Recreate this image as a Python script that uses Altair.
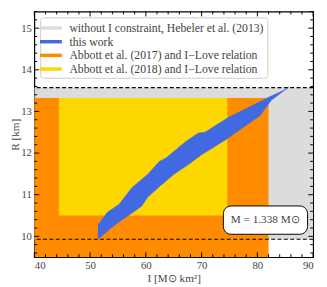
import altair as alt
import pandas as pd
import numpy as np

# ---- data ----
labels = [
    "without I constraint, Hebeler et al. (2013)",
    "this work",
    "Abbott et al. (2017) and I\u2212Love relation",
    "Abbott et al. (2018) and I\u2212Love relation",
]
colors = ["#DCDCDC", "#4169E1", "#FF8C00", "#FFD700"]

# rectangles: gray, orange, yellow
rect_label = [labels[0], labels[2], labels[3]]
rect_I1 = [40.0, 40.0, 44.4]
rect_I2 = [90.0, 82.0, 74.6]
rect_R1 = [9.93, 9.5, 10.5]
rect_R2 = [13.57, 13.32, 13.32]

# blue band edges (left to right)
upper_I = [51.4, 53.1, 55.2, 57.5, 60.4, 62.4, 63.6, 67.1, 69.4, 70.6, 74.7, 78.2, 82.0, 84.6, 85.7]
upper_R = [10.27, 10.58, 10.77, 11.17, 11.5, 11.8, 11.88, 12.27, 12.48, 12.5, 12.85, 13.08, 13.34, 13.5, 13.59]
lower_I = [51.4, 54.3, 57.2, 59.2, 60.4, 62.4, 65.1, 67.7, 70.0, 74.1, 77.0, 80.5, 82.5, 85.7]
lower_R = [9.93, 10.26, 10.53, 10.72, 10.95, 11.19, 11.5, 11.73, 11.96, 12.3, 12.57, 12.9, 13.27, 13.59]

dash_R = [9.93, 13.57]

x_major = [40, 50, 60, 70, 80, 90]
x_minor = [42, 44, 46, 48, 52, 54, 56, 58, 62, 64, 66, 68, 72, 74, 76, 78, 82, 84, 86, 88]
y_major = [10, 11, 12, 13, 14, 15]
y_minor = [9.6, 9.8, 10.2, 10.4, 10.6, 10.8, 11.2, 11.4, 11.6, 11.8, 12.2, 12.4, 12.6, 12.8,
           13.2, 13.4, 13.6, 13.8, 14.2, 14.4, 14.6, 14.8, 15.2, 15.4]

ann_text = ["M = 1.338 M\u2299"]
ann_I = [81.4]
ann_R = [10.39]
ann_I1, ann_I2, ann_R1, ann_R2 = [73.9], [89.0], [10.05], [10.73]

W, H = 286, 252
FONT = "Liberation Serif"
TXT = "#444"
xdom = [40, 90]
ydom = [9.5, 15.4]

xs = alt.Scale(domain=xdom, nice=False, zero=False)
ys = alt.Scale(domain=ydom, nice=False, zero=False)

rects = pd.DataFrame({"label": rect_label, "I1": rect_I1, "I2": rect_I2, "R1": rect_R1, "R2": rect_R2})
band = pd.DataFrame({
    "I": lower_I + upper_I[::-1],
    "R": lower_R + upper_R[::-1],
})
band["o"] = range(len(band))

legend_sym = "M-1.4,-0.22 L1.4,-0.22 L1.4,0.22 L-1.4,0.22 Z"

rect_layer = alt.Chart(rects).mark_rect(clip=True).encode(
    x=alt.X("I1:Q", scale=xs, axis=alt.Axis(values=x_major, title="I [M\u2299 km\u00b2]", grid=False, ticks=False,
                                          domain=False, labelFont=FONT, labelFontSize=11, titleFont=FONT,
                                          titleFontSize=11.5, titleFontWeight="normal", labelColor=TXT,
                                          titleColor=TXT, labelPadding=3, titlePadding=2)),
    x2="I2:Q",
    y=alt.Y("R1:Q", scale=ys, axis=alt.Axis(values=y_major, title="R [km]", grid=False, ticks=False,
                                          domain=False, labelFont=FONT, labelFontSize=11, titleFont=FONT,
                                          titleFontSize=11.5, titleFontWeight="normal", labelColor=TXT,
                                          titleColor=TXT, labelPadding=3, titlePadding=0)),
    y2="R2:Q",
    color=alt.Color("label:N", scale=alt.Scale(domain=labels, range=colors),
                    legend=alt.Legend(title=None, orient="top-left", offset=6, symbolType=legend_sym,
                                      symbolSize=256, symbolStrokeWidth=0, symbolOpacity=1,
                                      labelFont=FONT, labelFontSize=12, labelColor=TXT, labelLimit=400,
                                      fillColor="white", strokeColor="#ccc", cornerRadius=3, padding=3,
                                      rowPadding=0, labelOffset=11)),
)

band_layer = alt.Chart(band).mark_line(fill="#4169E1", stroke="#4169E1", strokeWidth=0.5, clip=True).encode(
    x=alt.X("I:Q", scale=xs), y=alt.Y("R:Q", scale=ys), order="o:Q"
)

dash_layer = alt.Chart(pd.DataFrame({"R": dash_R})).mark_rule(color="black", strokeDash=[4, 2.5], strokeWidth=1.2).encode(
    y=alt.Y("R:Q", scale=ys)
)

ann_box = alt.Chart(pd.DataFrame({"I1": ann_I1, "I2": ann_I2, "R1": ann_R1, "R2": ann_R2})).mark_rect(
    fill="white", stroke="black", strokeWidth=1, cornerRadius=8
).encode(x=alt.X("I1:Q", scale=xs), x2="I2:Q", y=alt.Y("R1:Q", scale=ys), y2="R2:Q")

ann_txt = alt.Chart(pd.DataFrame({"t": ann_text, "I": ann_I, "R": ann_R})).mark_text(
    font=FONT, fontSize=11.5, color=TXT
).encode(x=alt.X("I:Q", scale=xs), y=alt.Y("R:Q", scale=ys), text="t:N")

def xticks(vals, L):
    d = pd.DataFrame({"I": vals})
    b = alt.Chart(d).mark_rule(color="black", strokeWidth=1).encode(
        x=alt.X("I:Q", scale=xs), y=alt.value(H), y2=alt.value(H - L))
    t = alt.Chart(d).mark_rule(color="black", strokeWidth=1).encode(
        x=alt.X("I:Q", scale=xs), y=alt.value(0), y2=alt.value(L))
    return [b, t]

def yticks(vals, L):
    d = pd.DataFrame({"R": vals})
    l = alt.Chart(d).mark_rule(color="black", strokeWidth=1).encode(
        y=alt.Y("R:Q", scale=ys), x=alt.value(0), x2=alt.value(L))
    r = alt.Chart(d).mark_rule(color="black", strokeWidth=1).encode(
        y=alt.Y("R:Q", scale=ys), x=alt.value(W), x2=alt.value(W - L))
    return [l, r]

tick_layers = xticks(x_major, 5) + xticks(x_minor, 3) + yticks(y_major, 5) + yticks(y_minor, 3)

chart = alt.layer(rect_layer, band_layer, dash_layer, ann_box, ann_txt, *tick_layers).properties(
    width=W, height=H,
    autosize=alt.AutoSizeParams(type="none"),
    padding={"left": 27, "top": 0, "right": 6, "bottom": 27},
).configure_view(stroke="black", strokeWidth=1.2)

chart.save("out.html", embed_options={"renderer": "svg", "actions": False})
